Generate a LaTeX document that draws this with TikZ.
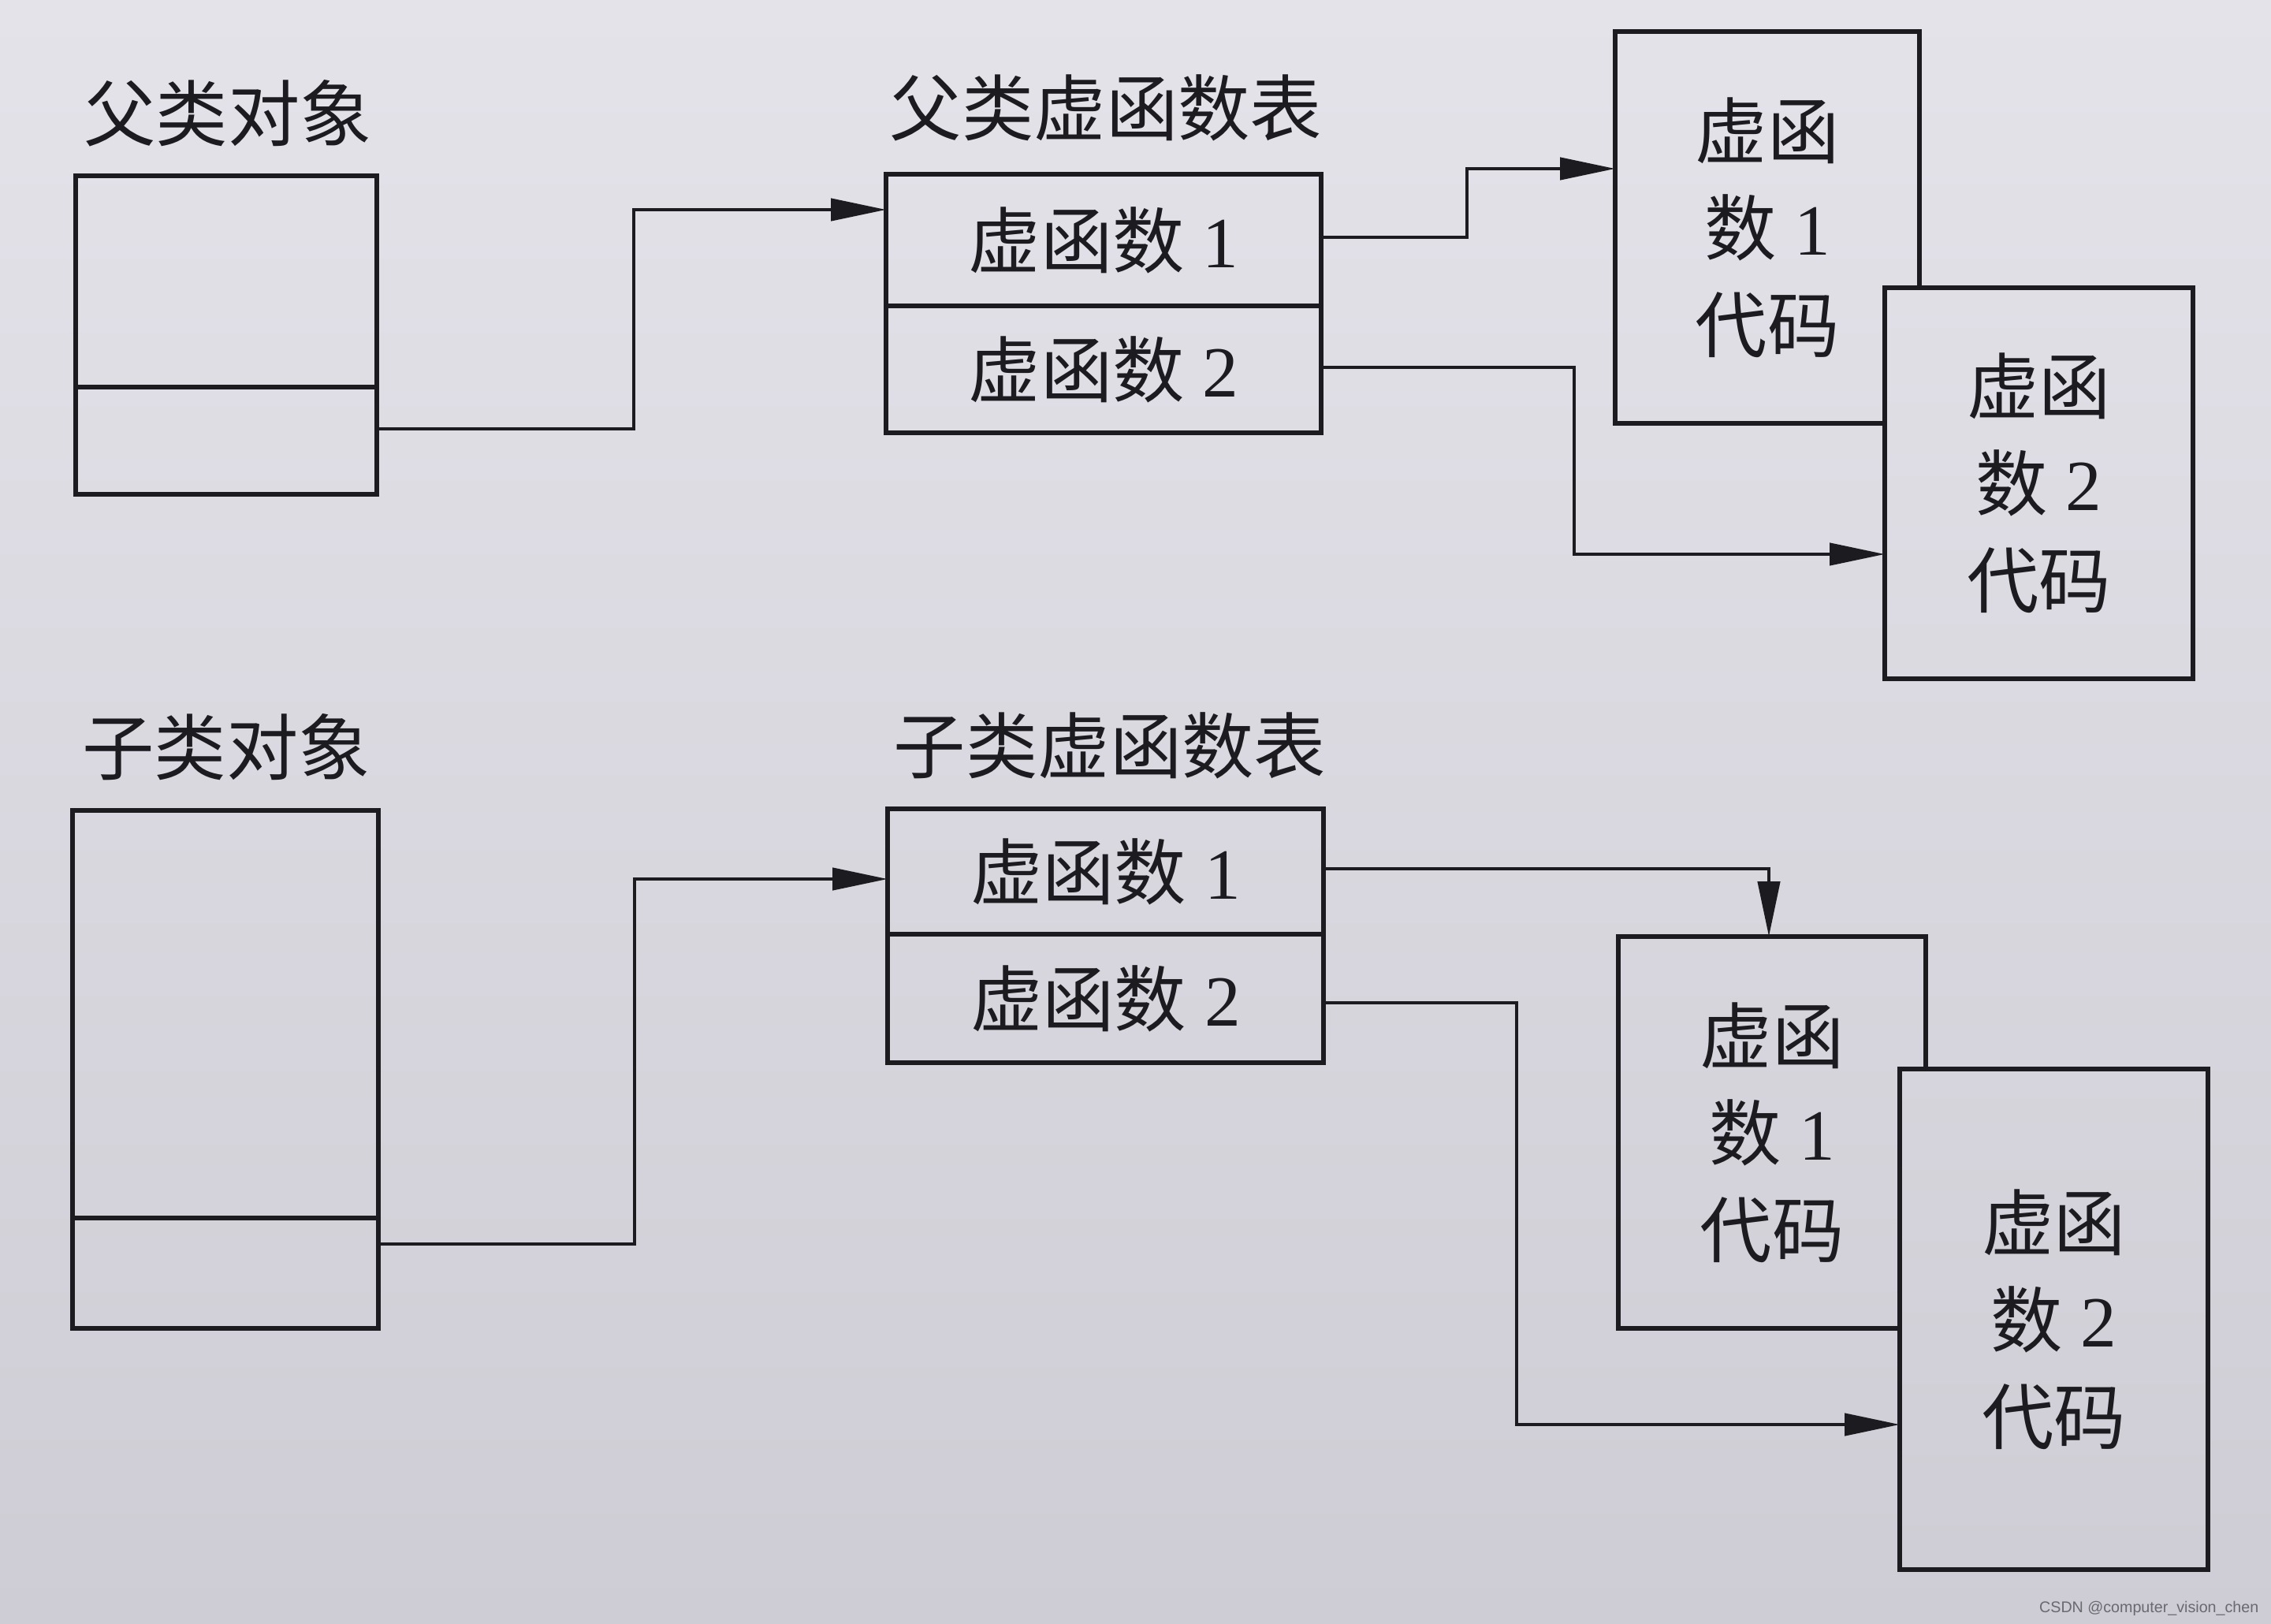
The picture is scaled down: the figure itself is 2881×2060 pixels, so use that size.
\documentclass[tikz,border=0pt]{standalone}
\usepackage{fontspec}
\setmainfont{Liberation Serif}
\newfontfamily\cjk{Noto Sans CJK SC}
\newfontfamily\wmfont{Liberation Sans}
\usetikzlibrary{arrows.meta,calc}
\definecolor{bgtop}{RGB}{229,227,234}
\definecolor{bgbot}{RGB}{206,204,212}
\definecolor{ink}{RGB}{28,27,32}
\newcommand{\zhtxt}[1]{{\cjk #1}}
\begin{document}
\begin{tikzpicture}[x=0.1mm,y=-0.1mm,
  box/.style={draw=ink, line width=0.6mm, rectangle, inner sep=0pt, outer sep=0pt, text=ink},
  lbl/.style={text=ink, inner sep=0pt, font=\cjk\fontsize{26}{31}\selectfont},
  cell/.style={box, minimum width=55.2mm, font=\fontsize{26}{31}\selectfont},
  codebox/.style={box, align=center, font=\fontsize{26}{35}\selectfont},
  conn/.style={draw=ink, line width=0.45mm, -{Triangle[length=7mm,width=2.8mm]}},
]
% background
\shade[top color=bgtop, bottom color=bgbot] (0,0) rectangle (2881,2060);
\useasboundingbox (0,0) rectangle (2881,2060);

% ---------- parent (top) ----------
\node[lbl] (plbl) at (289,144) {父类对象};
\node[box, minimum width=38.2mm, minimum height=26.8mm] (pobjup) at (287,357) {};
\node[box, minimum width=38.2mm, minimum height=13.6mm] (pobjlow) at (287,559) {};

\node[lbl] (pvtlbl) at (1403,137) {父类虚函数表};
\node[cell, minimum height=16.7mm] (pvt1) at (1400,304.5) {\zhtxt{虚函数} 1};
\node[cell, minimum height=16.1mm] (pvt2) at (1400,468.5) {\zhtxt{虚函数} 2};

\node[codebox, minimum width=38.6mm, minimum height=49.7mm] (pc1) at (2242,288.5)
  {\zhtxt{虚函}\\\zhtxt{数} 1\\\zhtxt{代码}};
\node[codebox, top color=bgtop!82!bgbot, bottom color=bgtop!58!bgbot,
      minimum width=39.1mm, minimum height=49.6mm] (pc2) at (2586.5,613)
  {\zhtxt{虚函}\\\zhtxt{数} 2\\\zhtxt{代码}};

\coordinate (pa) at (804,544);
\coordinate (pb) at (804,266);
\draw[conn] (pobjlow.east |- pa) -- (pa) -- (pb) -- (pvt1.west |- pb);
\coordinate (qa) at (1861,301);
\coordinate (qb) at (1861,214);
\draw[conn] (pvt1.east |- qa) -- (qa) -- (qb) -- (pc1.west |- qb);
\coordinate (ra) at (1997,466);
\coordinate (rb) at (1997,703);
\draw[conn] (pvt2.east |- ra) -- (ra) -- (rb) -- (pc2.west |- rb);

% ---------- child (bottom) ----------
\node[lbl] (clbl) at (287,948) {子类对象};
\node[box, minimum width=38.8mm, minimum height=51.7mm] (cobjup) at (286,1286.5) {};
\node[box, minimum width=38.8mm, minimum height=14mm] (cobjlow) at (286,1615) {};

\node[lbl] (cvtlbl) at (1408,946) {子类虚函数表};
\node[cell, minimum width=55.3mm, minimum height=15.9mm] (cvt1) at (1402.5,1105.5) {\zhtxt{虚函数} 1};
\node[cell, minimum width=55.3mm, minimum height=16.3mm] (cvt2) at (1402.5,1266.5) {\zhtxt{虚函数} 2};

\node[codebox, minimum width=39mm, minimum height=49.7mm] (cc1) at (2248,1436.5)
  {\zhtxt{虚函}\\\zhtxt{数} 1\\\zhtxt{代码}};
\node[codebox, top color=bgtop!36!bgbot, bottom color=bgtop!4!bgbot,
      minimum width=39.1mm, minimum height=63.5mm] (cc2) at (2605.5,1673.5)
  {\zhtxt{虚函}\\\zhtxt{数} 2\\\zhtxt{代码}};

\coordinate (sa) at (805,1578);
\coordinate (sb) at (805,1115);
\draw[conn] (cobjlow.east |- sa) -- (sa) -- (sb) -- (cvt1.west |- sb);
\coordinate (ta) at (2244,1102);
\draw[conn] (cvt1.east |- ta) -- (ta) -- (cc1.north -| ta);
\coordinate (ua) at (1924,1272);
\coordinate (ub) at (1924,1807);
\draw[conn] (cvt2.east |- ua) -- (ua) -- (ub) -- (cc2.west |- ub);

% watermark
\node[anchor=east, inner sep=0pt, text={rgb,255:red,105;green,105;blue,112},
      font=\wmfont\fontsize{5.6}{6}\selectfont] (wm) at (2866,2040) {CSDN @computer\_vision\_chen};
\end{tikzpicture}
\end{document}
